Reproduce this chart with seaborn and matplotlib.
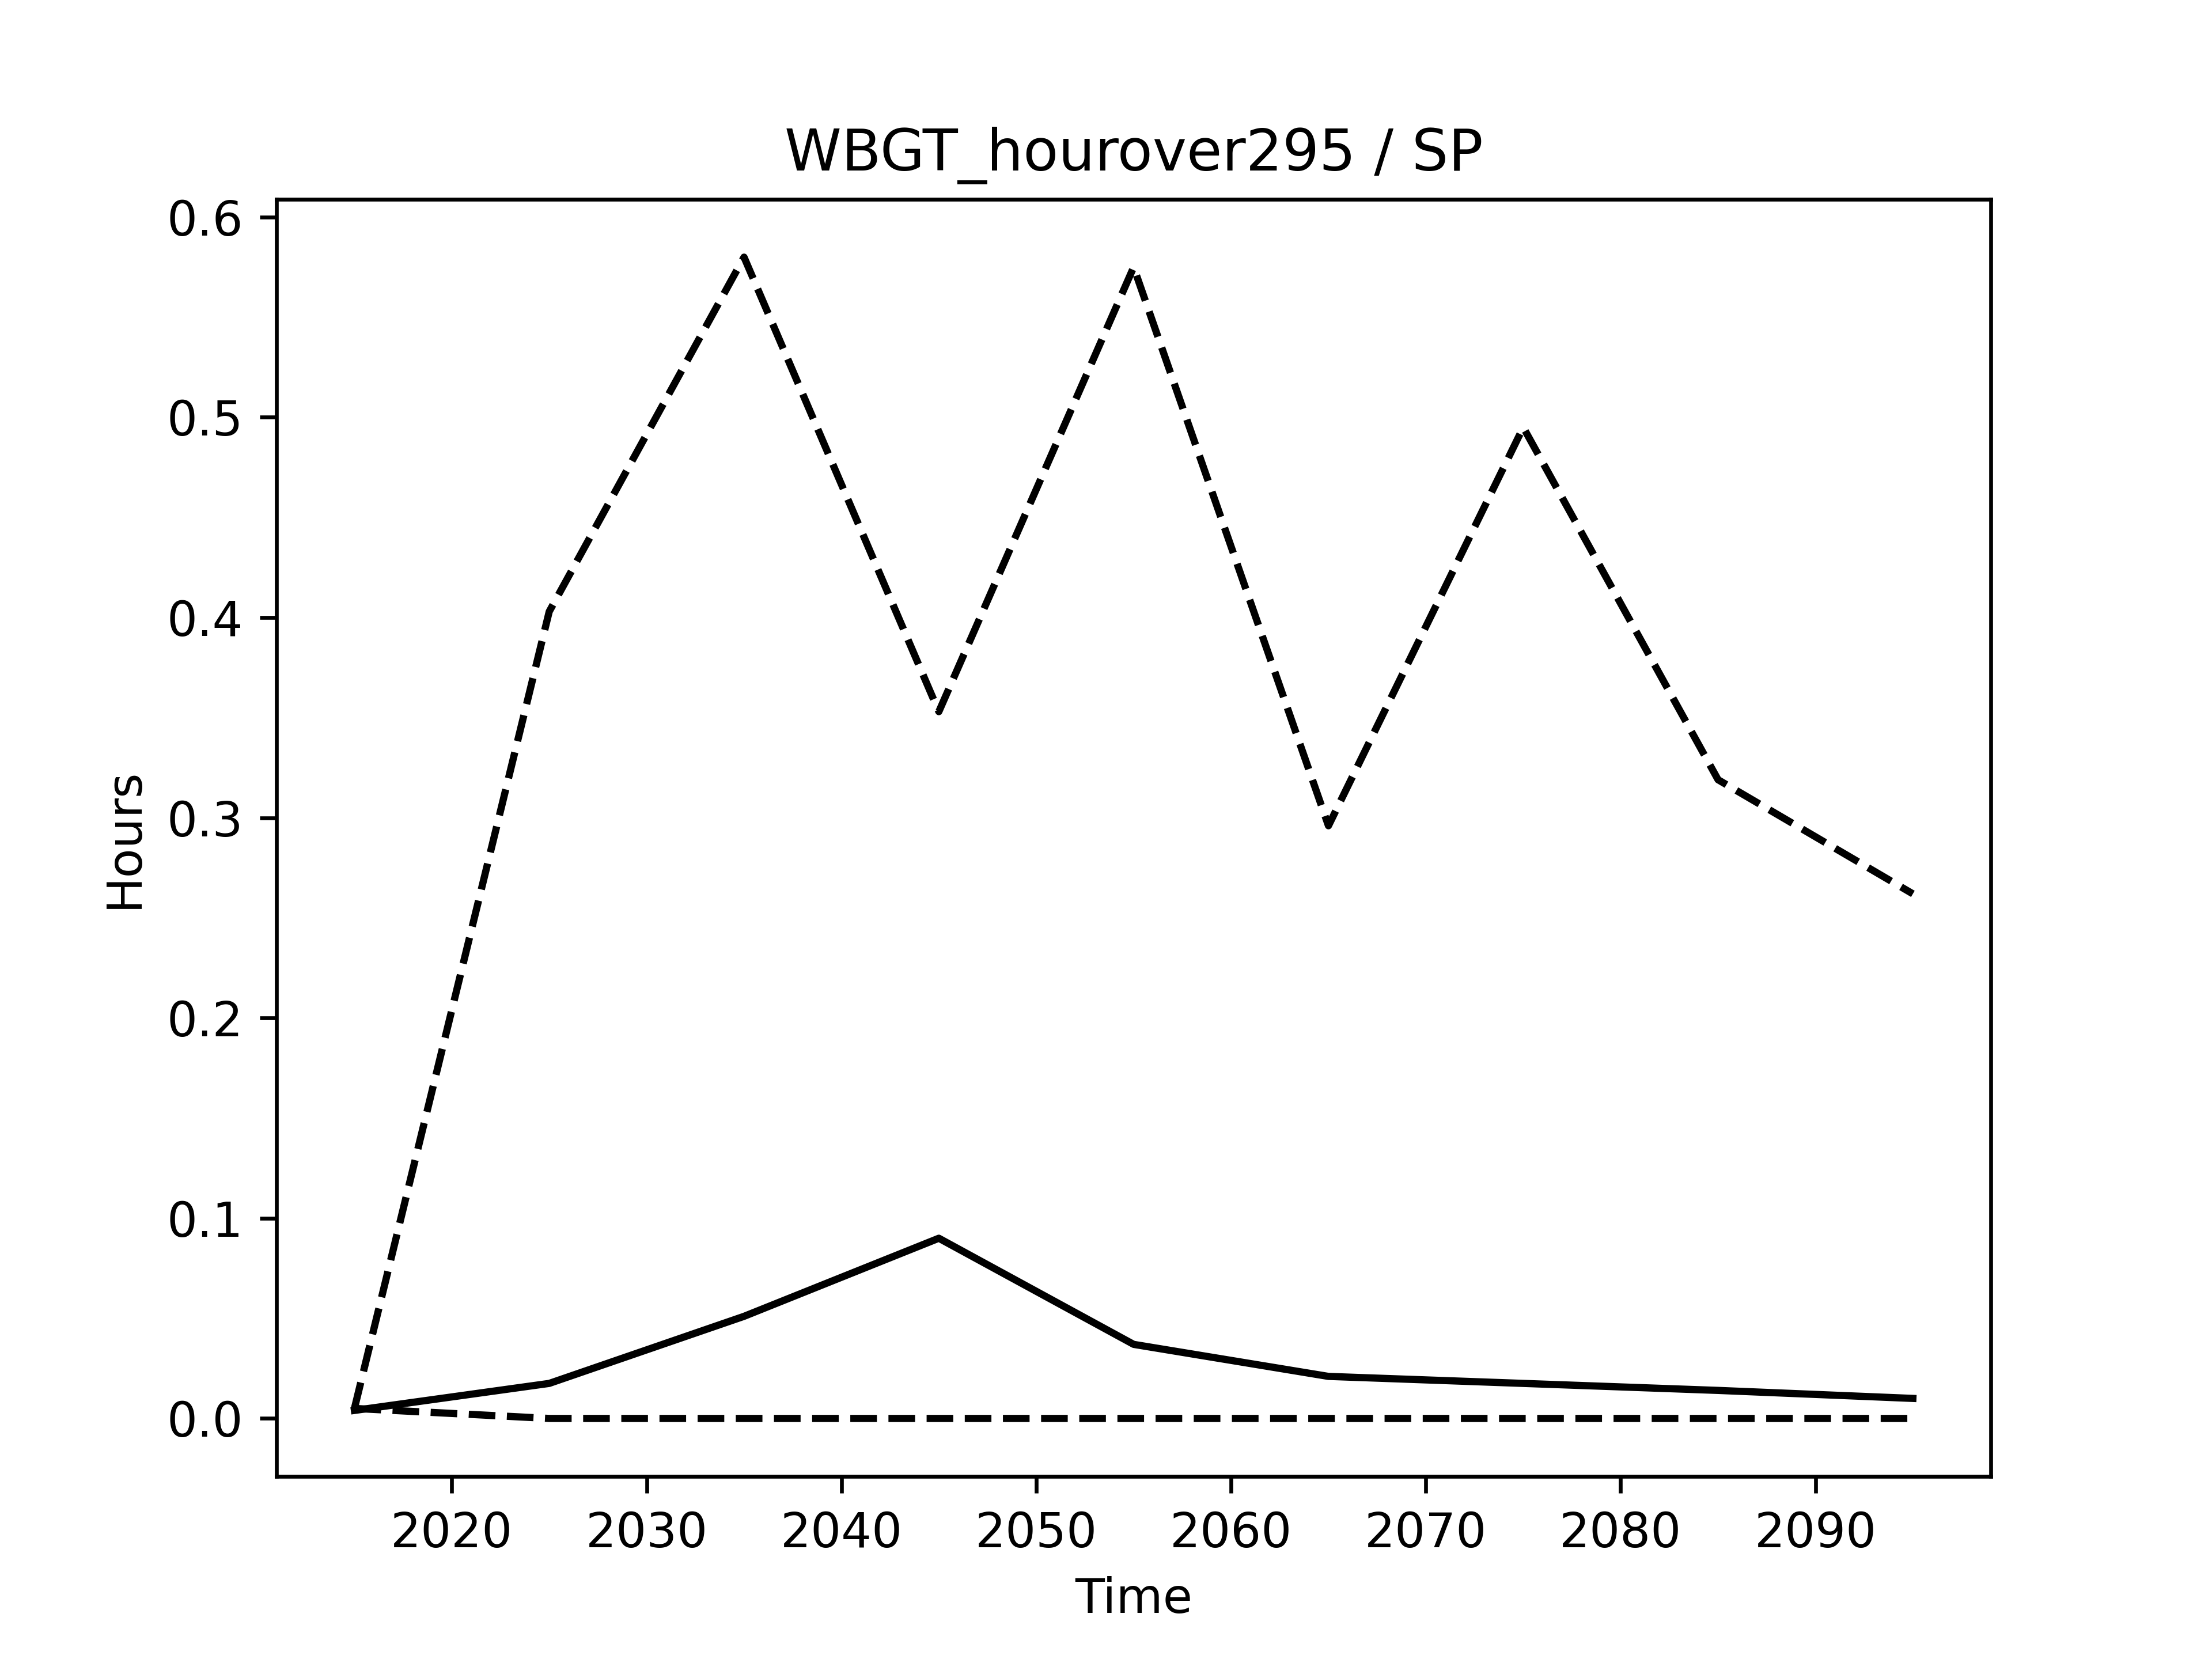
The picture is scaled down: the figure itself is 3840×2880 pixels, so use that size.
import matplotlib
matplotlib.use("Agg")
import matplotlib.pyplot as plt
import seaborn as sns
import pandas as pd

years = [2015, 2025, 2035, 2045, 2055, 2065, 2075, 2085, 2095]
upper = [0.005, 0.403, 0.580, 0.353, 0.575, 0.296, 0.495, 0.319, 0.262]
middle = [0.004, 0.0175, 0.051, 0.090, 0.037, 0.021, 0.0175, 0.014, 0.010]
lower = [0.005, 0.0, 0.0, 0.0, 0.0, 0.0, 0.0, 0.0, 0.0]

df = pd.DataFrame({"Time": years, "upper": upper, "middle": middle, "lower": lower})

fig, ax = plt.subplots(figsize=(6.4, 4.8), dpi=600)
sns.lineplot(data=df, x="Time", y="middle", color="black", linestyle="-", ax=ax)
sns.lineplot(data=df, x="Time", y="upper", color="black", linestyle="--", ax=ax)
sns.lineplot(data=df, x="Time", y="lower", color="black", linestyle="--", ax=ax)
ax.set_title("WBGT_hourover295 / SP")
ax.set_xlabel("Time")
ax.set_ylabel("Hours")
fig.savefig("out.png", dpi=600)
